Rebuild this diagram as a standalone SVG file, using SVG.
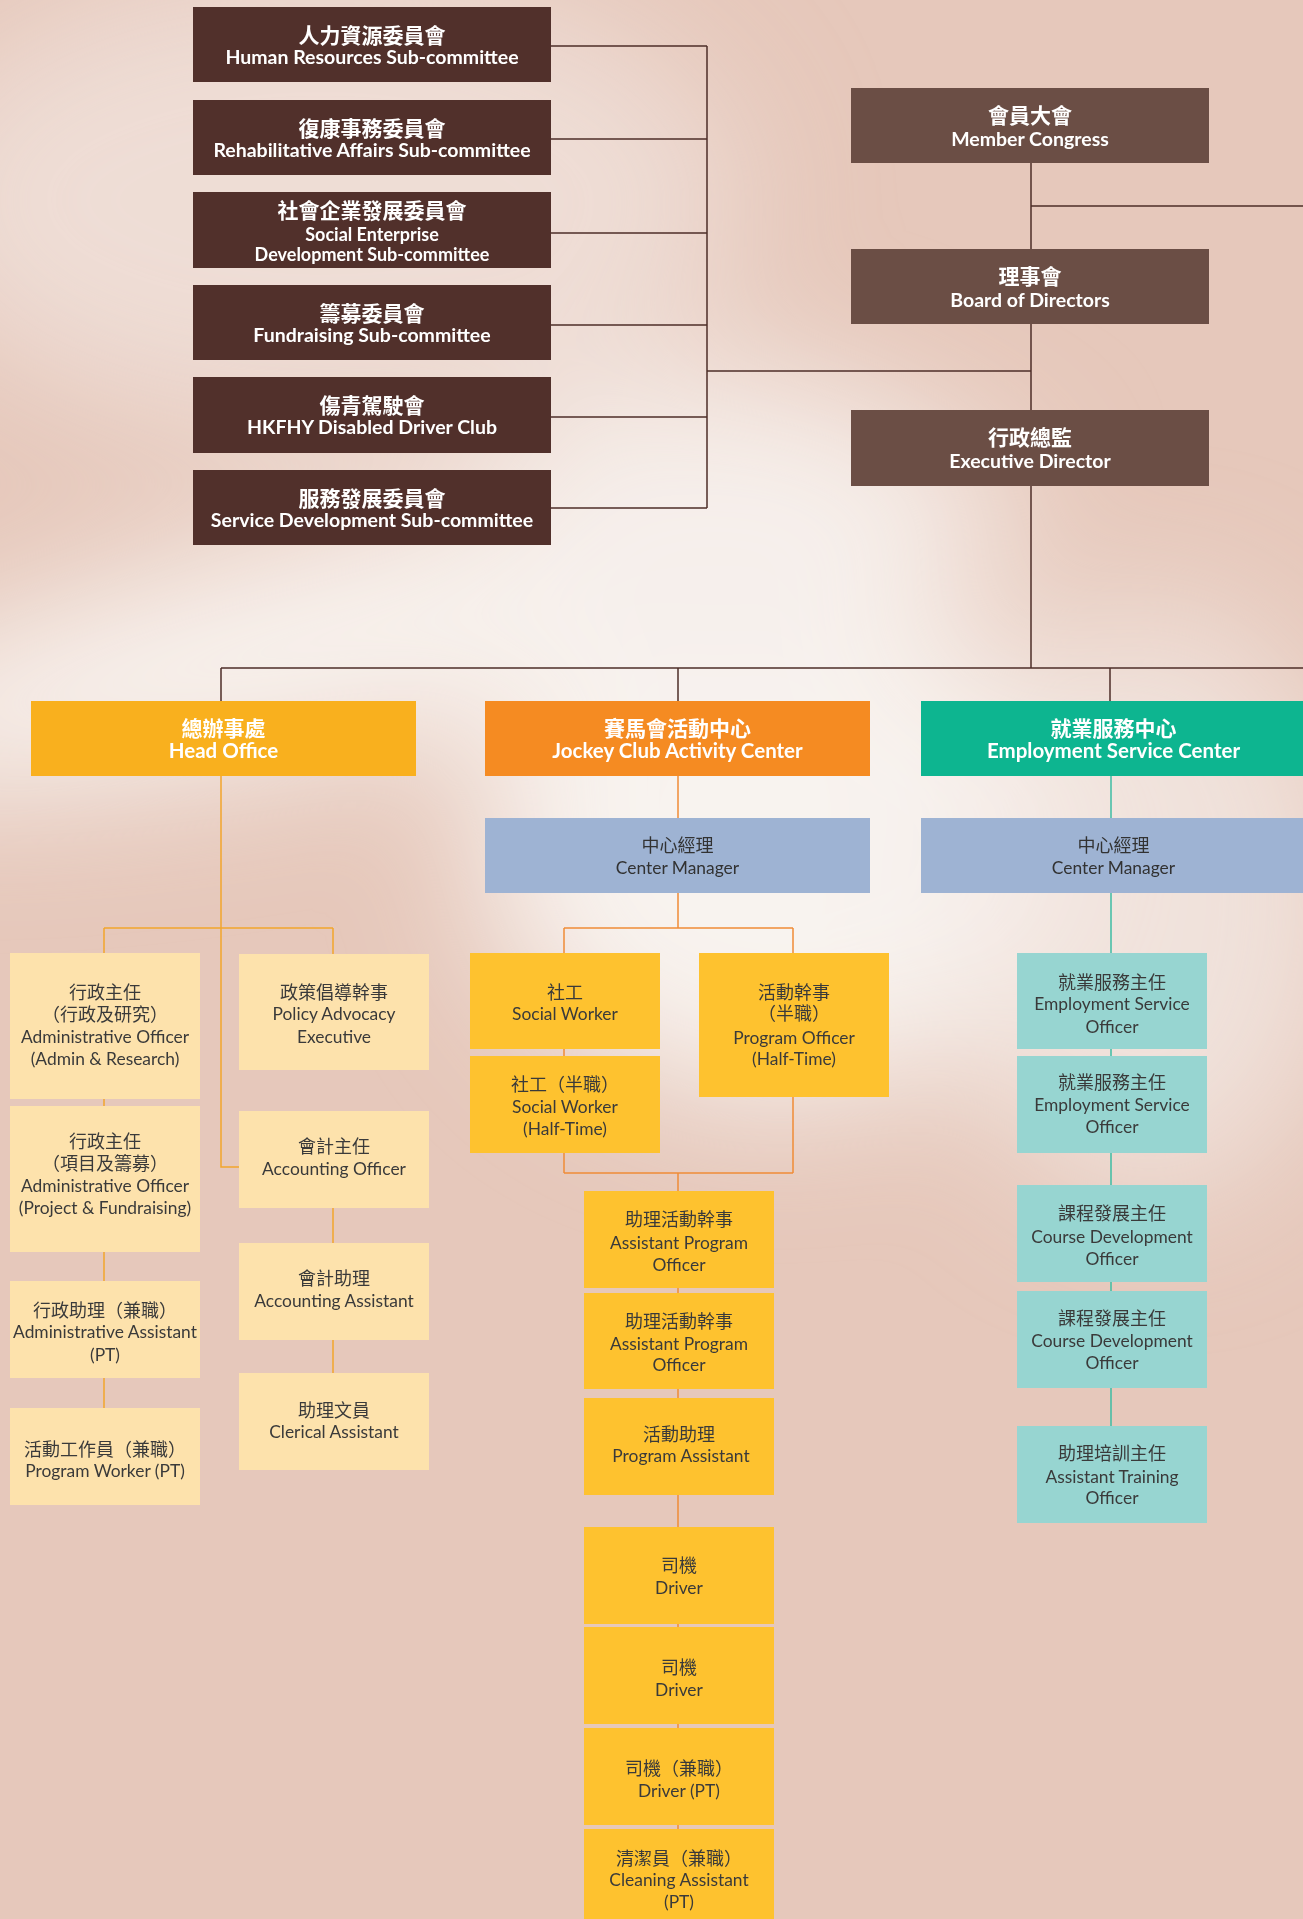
<svg xmlns="http://www.w3.org/2000/svg" width="1303" height="1919" viewBox="0 0 1303 1919">
<defs>
<filter id="blur" x="-50%" y="-50%" width="200%" height="200%"><feGaussianBlur stdDeviation="70"/></filter>
<style>
.hd{fill:#fff;font-family:Lato,"Noto Sans CJK TC",sans-serif;font-weight:700;text-anchor:middle}
.zh{font-size:21px}
.en{font-size:19.5px}
.ens{font-size:18px}
.enh{font-size:20.5px}
.t{fill:#3a3a3a;font-family:Lato,"Noto Sans CJK TC",sans-serif;text-anchor:middle;font-size:17.4px}
.tz{font-size:18px}
.cm{fill:#323232}
.com{fill:#51302b}
.gov{fill:#6b4e45}
.ho{fill:#f9b01e}
.jc{fill:#f58b22}
.es{fill:#0db590}
.mgr{fill:#9eb3d3}
.lt{fill:#fde2ac}
.ye{fill:#fec22f}
.tl{fill:#97d5d1}
.lb{stroke:#4d2e28;stroke-width:1.5;fill:none}
.lh{stroke:#f2a52c;stroke-width:1.5;fill:none}
.lj{stroke:#f08c37;stroke-width:1.5;fill:none}
.le{stroke:#3dbca3;stroke-width:1.5;fill:none}
</style>
</defs>
<g id="background">
<rect width="1303" height="1919" fill="#e6c8bb"/>
<g filter="url(#blur)">
<ellipse cx="320" cy="200" rx="420" ry="230" fill="#f0e2dc" opacity="0.8"/>
<ellipse cx="420" cy="620" rx="620" ry="110" transform="rotate(-12 420 620)" fill="#f8f3ef"/>
<ellipse cx="780" cy="840" rx="300" ry="260" fill="#f8f3ef"/>
<ellipse cx="1150" cy="900" rx="200" ry="300" fill="#f3e8e3" opacity="0.8"/>
<ellipse cx="720" cy="520" rx="250" ry="150" fill="#f6efeb"/>
</g>
</g>
<g id="connectors">
<path class="lb" d="M551 46H707M551 139H707M551 233H707M551 325H707M551 417H707M551 508H707M707 46V508M707 371H1031M1031 163V668M1031 206H1303M221 668H1303M221 668V701M678 668V701M1110 668V701"/>
<path class="lh" d="M221 776V1167H239M104 928H333M104 928V1408M333 928V954M333 1208V1373"/>
<path class="lj" d="M678 776V928M564 928H793M564 928V1173M793 928V1173M564 1173H793M678 1173V1829"/>
<path class="le" d="M1111 776V1426"/>
</g>
<g id="hr"><rect class="com" x="193" y="7" width="358" height="75"/><text class="hd" x="372"><tspan class="zh" x="372" y="42.5">人力資源委員會</tspan><tspan class="en" x="372" y="64">Human Resources Sub-committee</tspan></text></g>
<g id="rehab"><rect class="com" x="193" y="100" width="358" height="75"/><text class="hd"><tspan class="zh" x="372" y="135.5">復康事務委員會</tspan><tspan class="en" x="372" y="157">Rehabilitative Affairs Sub-committee</tspan></text></g>
<g id="socent"><rect class="com" x="193" y="192" width="358" height="76"/><text class="hd"><tspan class="zh" x="372" y="217.5">社會企業發展委員會</tspan><tspan class="ens" x="372" y="240.5">Social Enterprise</tspan><tspan class="ens" x="372" y="261">Development Sub-committee</tspan></text></g>
<g id="fund"><rect class="com" x="193" y="285" width="358" height="75"/><text class="hd"><tspan class="zh" x="372" y="320.5">籌募委員會</tspan><tspan class="en" x="372" y="342">Fundraising Sub-committee</tspan></text></g>
<g id="driverclub"><rect class="com" x="193" y="377" width="358" height="76"/><text class="hd"><tspan class="zh" x="372" y="412.5">傷青駕駛會</tspan><tspan class="en" x="372" y="434">HKFHY Disabled Driver Club</tspan></text></g>
<g id="servdev"><rect class="com" x="193" y="470" width="358" height="75"/><text class="hd"><tspan class="zh" x="372" y="505.5">服務發展委員會</tspan><tspan class="en" x="372" y="527">Service Development Sub-committee</tspan></text></g>
<g id="congress"><rect class="gov" x="851" y="88" width="358" height="75"/><text class="hd"><tspan class="zh" x="1030" y="123">會員大會</tspan><tspan class="en" x="1030" y="145.5">Member Congress</tspan></text></g>
<g id="board"><rect class="gov" x="851" y="249" width="358" height="75"/><text class="hd"><tspan class="zh" x="1030" y="284">理事會</tspan><tspan class="en" x="1030" y="306.5">Board of Directors</tspan></text></g>
<g id="exec"><rect class="gov" x="851" y="410" width="358" height="76"/><text class="hd"><tspan class="zh" x="1030" y="445">行政總監</tspan><tspan class="en" x="1030" y="467.5">Executive Director</tspan></text></g>
<g id="headoffice"><rect class="ho" x="31" y="701" width="385" height="75"/><text class="hd"><tspan class="zh" x="223.5" y="735.5">總辦事處</tspan><tspan class="enh" x="223.5" y="757.5">Head Office</tspan></text></g>
<g id="jockey"><rect class="jc" x="485" y="701" width="385" height="75"/><text class="hd"><tspan class="zh" x="677.5" y="735.5">賽馬會活動中心</tspan><tspan class="enh" x="677.5" y="757.5">Jockey Club Activity Center</tspan></text></g>
<g id="employment"><rect class="es" x="921" y="701" width="385" height="75"/><text class="hd"><tspan class="zh" x="1113.5" y="735.5">就業服務中心</tspan><tspan class="enh" x="1113.5" y="757.5">Employment Service Center</tspan></text></g>
<g id="jc-manager"><rect class="mgr" x="485" y="818" width="385" height="75"/><text class="t cm"><tspan class="tz" x="677.5" y="851.5">中心經理</tspan><tspan x="677.5" y="873.5">Center Manager</tspan></text></g>
<g id="es-manager"><rect class="mgr" x="921" y="818" width="385" height="75"/><text class="t cm"><tspan class="tz" x="1113.5" y="851.5">中心經理</tspan><tspan x="1113.5" y="873.5">Center Manager</tspan></text></g>
<g id="admin-research"><rect class="lt" x="10" y="953" width="190" height="146"/><text class="t"><tspan class="tz" x="105" y="999">行政主任</tspan><tspan class="tz" x="105" y="1021">（行政及研究）</tspan><tspan x="105" y="1043">Administrative Officer</tspan><tspan x="105" y="1065">(Admin &amp; Research)</tspan></text></g>
<g id="admin-project"><rect class="lt" x="10" y="1106" width="190" height="146"/><text class="t"><tspan class="tz" x="105" y="1148">行政主任</tspan><tspan class="tz" x="105" y="1170">（項目及籌募）</tspan><tspan x="105" y="1192">Administrative Officer</tspan><tspan x="105" y="1214">(Project &amp; Fundraising)</tspan></text></g>
<g id="admin-assistant"><rect class="lt" x="10" y="1281" width="190" height="97"/><text class="t"><tspan class="tz" x="105" y="1317">行政助理（兼職）</tspan><tspan x="105" y="1338">Administrative Assistant</tspan><tspan x="105" y="1361">(PT)</tspan></text></g>
<g id="program-worker"><rect class="lt" x="10" y="1408" width="190" height="97"/><text class="t"><tspan class="tz" x="105" y="1456">活動工作員（兼職）</tspan><tspan x="105" y="1477">Program Worker (PT)</tspan></text></g>
<g id="policy"><rect class="lt" x="239" y="954" width="190" height="116"/><text class="t"><tspan class="tz" x="334" y="999">政策倡導幹事</tspan><tspan x="334" y="1020">Policy Advocacy</tspan><tspan x="334" y="1043">Executive</tspan></text></g>
<g id="accounting-officer"><rect class="lt" x="239" y="1111" width="190" height="97"/><text class="t"><tspan class="tz" x="334" y="1153">會計主任</tspan><tspan x="334" y="1175">Accounting Officer</tspan></text></g>
<g id="accounting-assistant"><rect class="lt" x="239" y="1243" width="190" height="97"/><text class="t"><tspan class="tz" x="334" y="1285">會計助理</tspan><tspan x="334" y="1307">Accounting Assistant</tspan></text></g>
<g id="clerical"><rect class="lt" x="239" y="1373" width="190" height="97"/><text class="t"><tspan class="tz" x="334" y="1417">助理文員</tspan><tspan x="334" y="1438">Clerical Assistant</tspan></text></g>
<g id="social-worker"><rect class="ye" x="470" y="953" width="190" height="96"/><text class="t"><tspan class="tz" x="565" y="999">社工</tspan><tspan x="565" y="1020">Social Worker</tspan></text></g>
<g id="social-worker-ht"><rect class="ye" x="470" y="1056" width="190" height="97"/><text class="t"><tspan class="tz" x="565" y="1091">社工（半職）</tspan><tspan x="565" y="1113">Social Worker</tspan><tspan x="565" y="1135">(Half-Time)</tspan></text></g>
<g id="program-officer-ht"><rect class="ye" x="699" y="953" width="190" height="144"/><text class="t"><tspan class="tz" x="794" y="999">活動幹事</tspan><tspan class="tz" x="794" y="1020">（半職）</tspan><tspan x="794" y="1044">Program Officer</tspan><tspan x="794" y="1065">(Half-Time)</tspan></text></g>
<g id="apo1"><rect class="ye" x="584" y="1191" width="190" height="97"/><text class="t"><tspan class="tz" x="679" y="1226">助理活動幹事</tspan><tspan x="679" y="1249">Assistant Program</tspan><tspan x="679" y="1271">Officer</tspan></text></g>
<g id="apo2"><rect class="ye" x="584" y="1293" width="190" height="96"/><text class="t"><tspan class="tz" x="679" y="1328">助理活動幹事</tspan><tspan x="679" y="1350">Assistant Program</tspan><tspan x="679" y="1371">Officer</tspan></text></g>
<g id="program-assistant"><rect class="ye" x="584" y="1398" width="190" height="97"/><text class="t"><tspan class="tz" x="679" y="1441">活動助理</tspan><tspan x="681" y="1462">Program Assistant</tspan></text></g>
<g id="driver1"><rect class="ye" x="584" y="1527" width="190" height="97"/><text class="t"><tspan class="tz" x="679" y="1572">司機</tspan><tspan x="679" y="1594">Driver</tspan></text></g>
<g id="driver2"><rect class="ye" x="584" y="1627" width="190" height="97"/><text class="t"><tspan class="tz" x="679" y="1674">司機</tspan><tspan x="679" y="1696">Driver</tspan></text></g>
<g id="driver-pt"><rect class="ye" x="584" y="1728" width="190" height="97"/><text class="t"><tspan class="tz" x="679" y="1775">司機（兼職）</tspan><tspan x="679" y="1797">Driver (PT)</tspan></text></g>
<g id="cleaning"><rect class="ye" x="584" y="1829" width="190" height="97"/><text class="t"><tspan class="tz" x="679" y="1865">清潔員（兼職）</tspan><tspan x="679" y="1886">Cleaning Assistant</tspan><tspan x="679" y="1908">(PT)</tspan></text></g>
<g id="eso1"><rect class="tl" x="1017" y="953" width="190" height="96"/><text class="t"><tspan class="tz" x="1112" y="989">就業服務主任</tspan><tspan x="1112" y="1010">Employment Service</tspan><tspan x="1112" y="1033">Officer</tspan></text></g>
<g id="eso2"><rect class="tl" x="1017" y="1056" width="190" height="97"/><text class="t"><tspan class="tz" x="1112" y="1089">就業服務主任</tspan><tspan x="1112" y="1111">Employment Service</tspan><tspan x="1112" y="1133">Officer</tspan></text></g>
<g id="cdo1"><rect class="tl" x="1017" y="1185" width="190" height="97"/><text class="t"><tspan class="tz" x="1112" y="1220">課程發展主任</tspan><tspan x="1112" y="1243">Course Development</tspan><tspan x="1112" y="1265">Officer</tspan></text></g>
<g id="cdo2"><rect class="tl" x="1017" y="1291" width="190" height="97"/><text class="t"><tspan class="tz" x="1112" y="1325">課程發展主任</tspan><tspan x="1112" y="1347">Course Development</tspan><tspan x="1112" y="1369">Officer</tspan></text></g>
<g id="ato"><rect class="tl" x="1017" y="1426" width="190" height="97"/><text class="t"><tspan class="tz" x="1112" y="1460">助理培訓主任</tspan><tspan x="1112" y="1483">Assistant Training</tspan><tspan x="1112" y="1504">Officer</tspan></text></g>
</svg>
